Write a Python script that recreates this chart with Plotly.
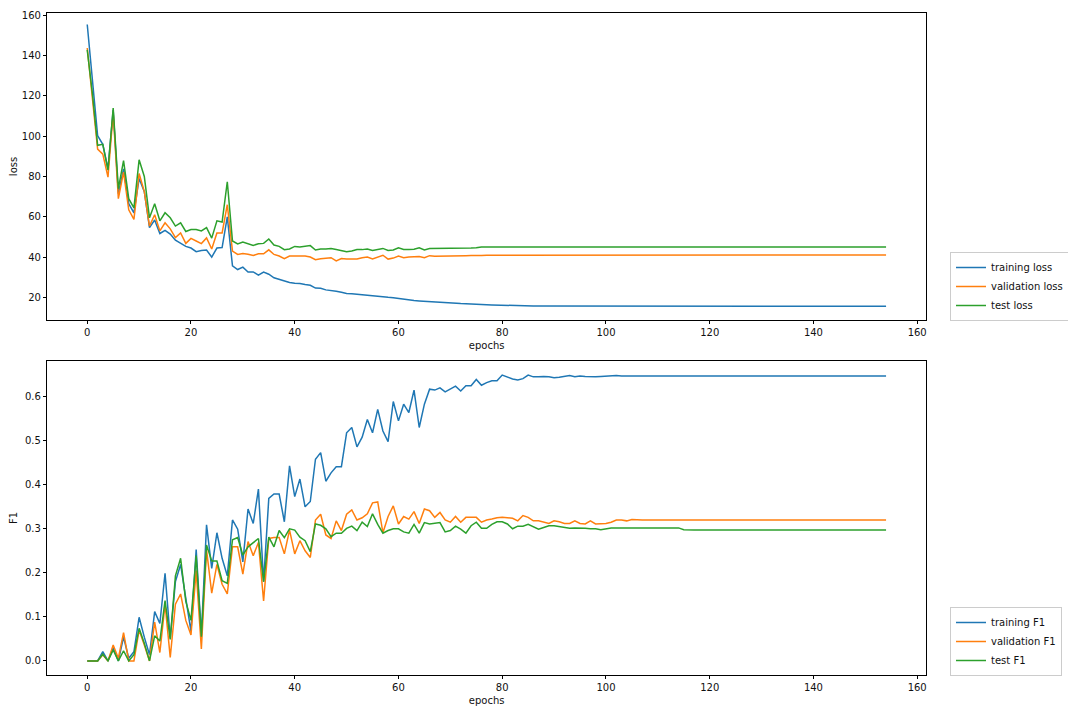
import plotly.graph_objects as go

epochs = list(range(155))

train_loss = [
    155.5, 127.0, 100.3, 96.0, 83.8, 113.0, 71.5, 83.8, 66.5, 62.0,
    79.0, 72.5, 54.6, 58.4, 51.7, 53.3, 51.4, 48.4, 47.0, 45.3,
    44.5, 42.7, 43.3, 43.5, 40.0, 44.5, 44.7, 60.0, 35.6, 33.8,
    35.0, 32.6, 32.6, 31.0, 32.5, 31.5, 29.7, 28.9, 28.0, 27.4,
    27.0, 26.9, 26.4, 26.0, 24.6, 24.5, 23.7, 23.5, 23.0, 22.5,
    21.9, 21.8, 21.5, 21.2, 21.0, 20.8, 20.6, 20.2, 20.0, 19.8,
    19.4, 18.9, 18.6, 18.4, 18.2, 18.0, 17.8, 17.6, 17.4, 17.2,
    17.1, 17.0, 16.9, 16.8, 16.6, 16.5, 16.4, 16.3, 16.2, 16.1,
    16.0, 15.95, 15.9, 15.85, 15.8, 15.8, 15.75, 15.7, 15.7, 15.65,
    15.6, 15.6, 15.6, 15.6, 15.6, 15.6, 15.6, 15.6, 15.6, 15.6,
    15.6, 15.6, 15.6, 15.6, 15.6, 15.6, 15.6, 15.6, 15.6, 15.6,
    15.6, 15.6, 15.6, 15.6, 15.6, 15.6, 15.6, 15.6, 15.6, 15.6,
    15.6, 15.6, 15.6, 15.6, 15.6, 15.6, 15.6, 15.6, 15.6, 15.6,
    15.6, 15.6, 15.6, 15.6, 15.6, 15.6, 15.6, 15.6, 15.6, 15.6,
    15.6, 15.6, 15.6, 15.6, 15.6, 15.6, 15.6, 15.6, 15.6, 15.6,
    15.6, 15.6, 15.6, 15.6, 15.6,
]

val_loss = [
    143.8, 119.0, 93.6, 91.1, 79.7, 111.6, 69.0, 82.2, 63.5, 58.7,
    81.5, 72.5, 55.4, 61.0, 53.0, 57.0, 54.0, 49.7, 52.0, 46.8,
    49.3, 48.0, 46.7, 49.5, 44.0, 52.0, 52.0, 66.0, 43.0, 41.3,
    41.8, 41.4, 40.8, 41.6, 41.6, 43.6, 41.3, 40.5, 39.2, 40.5,
    40.5, 40.5, 40.5, 40.0, 38.7, 39.2, 39.3, 39.7, 38.1, 39.3,
    39.1, 39.2, 39.1, 39.7, 40.0, 39.1, 40.0, 40.9, 39.0, 39.5,
    40.5, 39.7, 40.0, 40.2, 40.3, 39.7, 40.7, 40.4, 40.4, 40.5,
    40.5, 40.6, 40.6, 40.7, 40.8, 40.7, 40.8, 40.9, 40.9, 40.9,
    40.9, 40.9, 41.0, 41.0, 41.0, 41.0, 41.0, 41.0, 41.0, 41.0,
    41.0, 41.0, 41.0, 41.0, 41.0, 41.0, 41.0, 41.0, 41.0, 41.0,
    41.0, 41.0, 41.0, 41.0, 41.0, 41.0, 41.0, 41.0, 41.0, 41.0,
    41.0, 41.0, 41.0, 41.0, 41.0, 41.0, 41.0, 41.0, 41.0, 41.0,
    41.0, 41.0, 41.0, 41.0, 41.0, 41.0, 41.0, 41.0, 41.0, 41.0,
    41.0, 41.0, 41.0, 41.0, 41.0, 41.0, 41.0, 41.0, 41.0, 41.0,
    41.0, 41.0, 41.0, 41.0, 41.0, 41.0, 41.0, 41.0, 41.0, 41.0,
    41.0, 41.0, 41.0, 41.0, 41.0,
]

test_loss = [
    142.9, 121.0, 95.5, 96.0, 83.2, 114.0, 74.0, 87.9, 69.0, 64.4,
    88.3, 80.0, 59.5, 66.5, 58.0, 62.0, 59.5, 55.4, 57.0, 52.7,
    53.7, 53.7, 53.0, 54.6, 49.4, 58.0, 57.4, 77.4, 48.0, 46.5,
    47.5, 46.8, 45.8, 46.6, 46.8, 49.0, 46.0, 45.3, 43.7, 44.0,
    45.3, 45.0, 45.3, 45.7, 43.5, 44.0, 44.0, 44.3, 43.8, 43.3,
    42.7, 43.0, 43.8, 43.7, 44.0, 43.3, 43.8, 44.3, 43.3, 43.5,
    44.6, 43.8, 43.7, 43.9, 44.6, 43.5, 44.2, 44.2, 44.3, 44.4,
    44.5, 44.5, 44.5, 44.5, 44.5, 44.6, 45.0, 45.0, 45.0, 45.0,
    45.0, 45.0, 45.0, 45.0, 45.0, 45.0, 45.0, 45.0, 45.0, 45.0,
    45.0, 45.0, 45.0, 45.0, 45.0, 45.0, 45.0, 45.0, 45.0, 45.0,
    45.0, 45.0, 45.0, 45.0, 45.0, 45.0, 45.0, 45.0, 45.0, 45.0,
    45.0, 45.0, 45.0, 45.0, 45.0, 45.0, 45.0, 45.0, 45.0, 45.0,
    45.0, 45.0, 45.0, 45.0, 45.0, 45.0, 45.0, 45.0, 45.0, 45.0,
    45.0, 45.0, 45.0, 45.0, 45.0, 45.0, 45.0, 45.0, 45.0, 45.0,
    45.0, 45.0, 45.0, 45.0, 45.0, 45.0, 45.0, 45.0, 45.0, 45.0,
    45.0, 45.0, 45.0, 45.0, 45.0,
]

train_f1 = [
    0.0, 0.0, 0.0, 0.021, 0.0, 0.029, 0.0, 0.054, 0.006, 0.021,
    0.099, 0.054, 0.014, 0.112, 0.085, 0.199, 0.051, 0.18, 0.219, 0.142,
    0.067, 0.253, 0.059, 0.309, 0.21, 0.291, 0.233, 0.193, 0.32, 0.299,
    0.225, 0.345, 0.312, 0.39, 0.18, 0.369, 0.379, 0.379, 0.316, 0.443,
    0.373, 0.413, 0.35, 0.362, 0.458, 0.473, 0.408, 0.427, 0.441, 0.441,
    0.518, 0.53, 0.486, 0.508, 0.548, 0.518, 0.571, 0.522, 0.498, 0.589,
    0.545, 0.583, 0.564, 0.615, 0.53, 0.583, 0.617, 0.615, 0.62, 0.611,
    0.617, 0.624, 0.613, 0.625, 0.625, 0.639, 0.626, 0.632, 0.636, 0.636,
    0.649, 0.644, 0.64, 0.638, 0.641, 0.649, 0.645, 0.645, 0.646, 0.645,
    0.643, 0.644, 0.646, 0.648, 0.645, 0.647, 0.646, 0.645, 0.645, 0.646,
    0.647, 0.648, 0.648, 0.647, 0.647, 0.647, 0.647, 0.647, 0.647, 0.647,
    0.647, 0.647, 0.647, 0.647, 0.647, 0.647, 0.647, 0.647, 0.647, 0.647,
    0.647, 0.647, 0.647, 0.647, 0.647, 0.647, 0.647, 0.647, 0.647, 0.647,
    0.647, 0.647, 0.647, 0.647, 0.647, 0.647, 0.647, 0.647, 0.647, 0.647,
    0.647, 0.647, 0.647, 0.647, 0.647, 0.647, 0.647, 0.647, 0.647, 0.647,
    0.647, 0.647, 0.647, 0.647, 0.647,
]

val_f1 = [
    0.0, 0.0, 0.0, 0.014, 0.0, 0.036, 0.006, 0.064, 0.0, 0.0,
    0.07, 0.036, 0.0, 0.088, 0.019, 0.129, 0.008, 0.129, 0.152, 0.092,
    0.059, 0.205, 0.027, 0.252, 0.154, 0.219, 0.174, 0.152, 0.259, 0.259,
    0.197, 0.271, 0.239, 0.269, 0.136, 0.278, 0.28, 0.28, 0.243, 0.297,
    0.243, 0.273, 0.25, 0.235, 0.32, 0.333, 0.286, 0.278, 0.318, 0.296,
    0.333, 0.343, 0.32, 0.325, 0.334, 0.359, 0.361, 0.291, 0.328, 0.352,
    0.311, 0.328, 0.322, 0.339, 0.312, 0.345, 0.341, 0.326, 0.337, 0.32,
    0.315, 0.328, 0.315, 0.326, 0.326, 0.326, 0.315, 0.32, 0.322, 0.325,
    0.326, 0.325, 0.324, 0.318, 0.33, 0.326, 0.318, 0.318, 0.315, 0.312,
    0.318, 0.316, 0.312, 0.312, 0.318, 0.312, 0.311, 0.318, 0.311, 0.311,
    0.312, 0.315, 0.32, 0.32, 0.318, 0.321, 0.32, 0.32, 0.32, 0.32,
    0.32, 0.32, 0.32, 0.32, 0.32, 0.32, 0.32, 0.32, 0.32, 0.32,
    0.32, 0.32, 0.32, 0.32, 0.32, 0.32, 0.32, 0.32, 0.32, 0.32,
    0.32, 0.32, 0.32, 0.32, 0.32, 0.32, 0.32, 0.32, 0.32, 0.32,
    0.32, 0.32, 0.32, 0.32, 0.32, 0.32, 0.32, 0.32, 0.32, 0.32,
    0.32, 0.32, 0.32, 0.32, 0.32,
]

test_f1 = [
    0.0, 0.0, 0.0, 0.015, 0.0, 0.025, 0.0, 0.023, 0.0, 0.014,
    0.074, 0.04, 0.0, 0.057, 0.045, 0.137, 0.049, 0.193, 0.233, 0.135,
    0.092, 0.239, 0.055, 0.263, 0.227, 0.227, 0.182, 0.176, 0.275, 0.28,
    0.24, 0.259, 0.269, 0.278, 0.18, 0.281, 0.259, 0.296, 0.28, 0.3,
    0.297, 0.281, 0.273, 0.248, 0.311, 0.308, 0.3, 0.282, 0.29, 0.29,
    0.301, 0.306, 0.296, 0.315, 0.305, 0.334, 0.31, 0.29, 0.296, 0.3,
    0.3, 0.293, 0.29, 0.31, 0.29, 0.314, 0.311, 0.312, 0.314, 0.293,
    0.296, 0.306, 0.299, 0.29, 0.307, 0.315, 0.301, 0.301, 0.31, 0.316,
    0.316, 0.311, 0.3, 0.306, 0.306, 0.31, 0.305, 0.299, 0.303, 0.307,
    0.307, 0.305, 0.303, 0.301, 0.302, 0.302, 0.301, 0.3, 0.3, 0.298,
    0.3, 0.302, 0.302, 0.302, 0.302, 0.302, 0.302, 0.302, 0.302, 0.302,
    0.302, 0.302, 0.302, 0.302, 0.302, 0.298, 0.297, 0.297, 0.297, 0.297,
    0.297, 0.297, 0.297, 0.297, 0.297, 0.297, 0.297, 0.297, 0.297, 0.297,
    0.297, 0.297, 0.297, 0.297, 0.297, 0.297, 0.297, 0.297, 0.297, 0.297,
    0.297, 0.297, 0.297, 0.297, 0.297, 0.297, 0.297, 0.297, 0.297, 0.297,
    0.297, 0.297, 0.297, 0.297, 0.297,
]

loss_ticks = [20, 40, 60, 80, 100, 120, 140, 160]
f1_ticks = [0.0, 0.1, 0.2, 0.3, 0.4, 0.5, 0.6]
epoch_ticks = [0, 20, 40, 60, 80, 100, 120, 140, 160]

C_BLUE, C_ORANGE, C_GREEN = "#1f77b4", "#ff7f0e", "#2ca02c"
# the page body has an 8px default margin; size the figure to fill the rest
OFF = 8
W, H = 1076 - OFF, 713 - OFF
FONT = dict(family="DejaVu Sans", size=10, color="#111111")


def px(xref):
    return min(1.0, max(0.0, (xref - OFF) / W))


def py(yref):
    return min(1.0, max(0.0, 1 - (yref - OFF) / H))


fig = go.Figure()
for name, ys, col in [("training loss", train_loss, C_BLUE),
                      ("validation loss", val_loss, C_ORANGE),
                      ("test loss", test_loss, C_GREEN)]:
    fig.add_trace(go.Scatter(x=epochs, y=ys, mode="lines", name=name,
                             line=dict(color=col, width=1.5),
                             xaxis="x", yaxis="y", legend="legend"))
for name, ys, col in [("training F1", train_f1, C_BLUE),
                      ("validation F1", val_f1, C_ORANGE),
                      ("test F1", test_f1, C_GREEN)]:
    fig.add_trace(go.Scatter(x=epochs, y=ys, mode="lines", name=name,
                             line=dict(color=col, width=1.5),
                             xaxis="x2", yaxis="y2", legend="legend2"))

axis_common = dict(showline=True, linecolor="black", linewidth=0.8, mirror=True,
                   ticks="outside", ticklen=3.5, tickwidth=0.8, tickcolor="black",
                   showgrid=False, zeroline=False, tickfont=FONT, automargin=False,
                   ticklabeloverflow="allow")

xdom = [px(47.3), px(926)]
fig.update_layout(
    width=W, height=H,
    margin=dict(l=0, r=0, t=0, b=0, autoexpand=False),
    paper_bgcolor="white", plot_bgcolor="white",
    font=FONT,
    xaxis=dict(domain=xdom, anchor="y", range=[-7.7, 161.7], tickvals=epoch_ticks,
               title=dict(text="epochs", font=FONT, standoff=4), **axis_common),
    yaxis=dict(domain=[py(320), py(13)], anchor="x", range=[8.75, 161.2],
               tickvals=loss_ticks,
               title=dict(text="loss", font=FONT, standoff=6), **axis_common),
    xaxis2=dict(domain=xdom, anchor="y2", range=[-7.7, 161.7], tickvals=epoch_ticks,
                title=dict(text="epochs", font=FONT, standoff=4), **axis_common),
    yaxis2=dict(domain=[py(675), py(361)], anchor="x2", range=[-0.032, 0.681],
                tickvals=f1_ticks, tickformat=".1f",
                title=dict(text="F1", font=FONT, standoff=6), **axis_common),
    legend=dict(x=px(1069), y=py(321), xanchor="right", yanchor="bottom",
                bgcolor="white", bordercolor="#cccccc", borderwidth=1,
                font=FONT, tracegroupgap=0, itemwidth=30),
    legend2=dict(x=px(1062), y=py(676), xanchor="right", yanchor="bottom",
                 bgcolor="white", bordercolor="#cccccc", borderwidth=1,
                 font=FONT, tracegroupgap=0, itemwidth=30),
)

fig.write_html("out.html")
